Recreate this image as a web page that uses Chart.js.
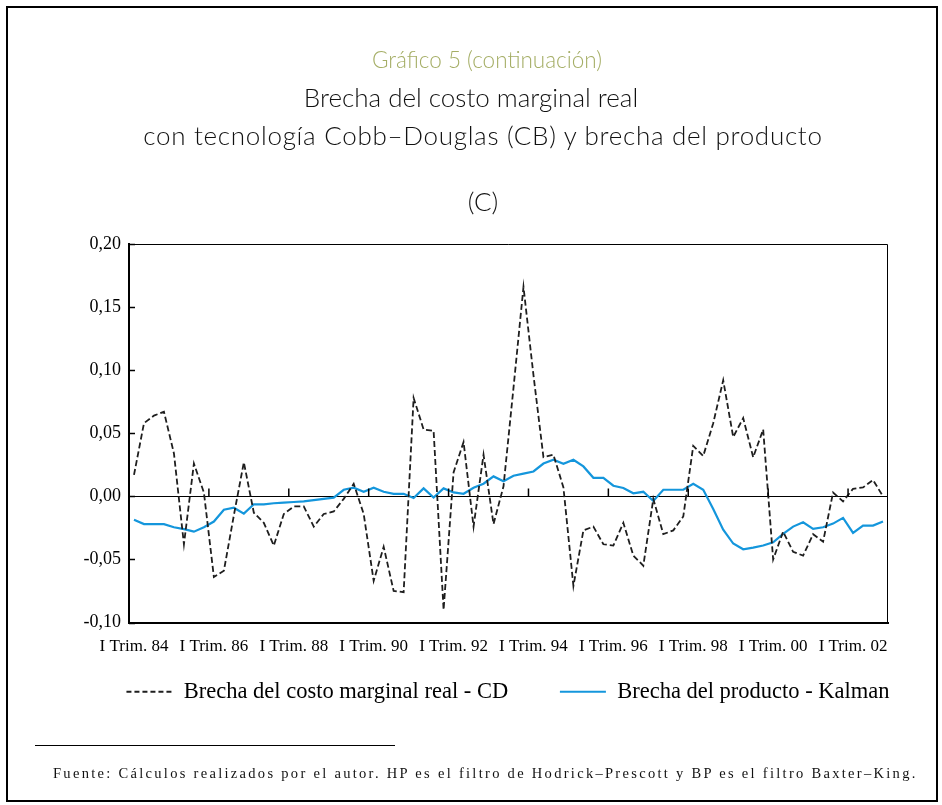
<!DOCTYPE html>
<html>
<head>
<meta charset="utf-8">
<script src="https://cdn.jsdelivr.net/npm/chart.js@4.4.0/dist/chart.umd.min.js"></script>
<style>
  html, body { margin: 0; padding: 0; background: #fff; }
  #page { position: relative; width: 942px; height: 805px; overflow: hidden; }
  #frame { position: absolute; left: 6px; top: 6px; width: 928px; height: 792px; border: 2px solid #000; pointer-events: none; }
  .t { position: absolute; width: 942px; text-align: center; white-space: nowrap; font-family: "Lato", sans-serif; font-weight: 300; color: #111; }
  #rule { position: absolute; left: 35px; top: 745px; width: 360px; border-top: 1px solid #000; }
  #note { position: absolute; left: 53px; top: 765px; white-space: nowrap; font-family: "Liberation Serif", serif; font-size: 14.5px; letter-spacing: 2.3px; color: #111; }
  canvas { position: absolute; left: 0; top: 0; }
</style>
</head>
<body>
<div id="page">
  <canvas id="chart" width="942" height="805"></canvas>
  <div class="t" style="left:16px; top:46px; font-size:22.5px; color:#a5ae66;">Gráfico 5 (continuación)</div>
  <div class="t" style="left:0px; top:81px; font-size:26px;">Brecha del costo marginal real</div>
  <div class="t" style="left:12px; top:119px; font-size:26px; letter-spacing:0.7px;">con tecnología Cobb–Douglas (CB) y brecha del producto</div>
  <div class="t" style="left:12px; top:185px; font-size:26px;">(C)</div>
  <div id="rule"></div>
  <div id="note">Fuente: Cálculos realizados por el autor. HP es el filtro de Hodrick–Prescott y BP es el filtro Baxter–King.</div>
  <div id="frame"></div>
</div>
<script>
// quarterly categories 1984 I .. 2002 IV
const years = ["84", "85", "86", "87", "88", "89", "90", "91", "92", "93",
  "94", "95", "96", "97", "98", "99", "00", "01", "02"];
const quarterNames = ["I", "II", "III", "IV"];
const quarters = [];
years.forEach(y => quarterNames.forEach(q => quarters.push(q + " Trim. " + y)));

const yTicks = [-0.10, -0.05, 0.00, 0.05, 0.10, 0.15, 0.20];

// Brecha del costo marginal real - CD
const cdGap = [
  0.017, 0.058, 0.064, 0.067, 0.034, -0.038, 0.026, 0.003,
  -0.064, -0.059, -0.015, 0.027, -0.013, -0.021, -0.039, -0.014,
  -0.008, -0.008, -0.024, -0.014, -0.012, -0.002, 0.010, -0.014,
  -0.067, -0.040, -0.075, -0.076, 0.078, 0.053, 0.052, -0.090,
  0.019, 0.043, -0.024, 0.033, -0.022, 0.008, 0.086, 0.166,
  0.096, 0.031, 0.033, 0.007, -0.071, -0.027, -0.024, -0.038,
  -0.039, -0.021, -0.047, -0.055, -0.002, -0.030, -0.027, -0.016,
  0.040, 0.032, 0.058, 0.092, 0.047, 0.062, 0.031, 0.053,
  -0.050, -0.028, -0.044, -0.047, -0.030, -0.036, 0.003, -0.004,
  0.006, 0.007, 0.013, 0.000
];

// Brecha del producto - Kalman
const kalmanGap = [
  -0.0185, -0.022, -0.022, -0.022, -0.0245, -0.026, -0.028, -0.0245,
  -0.020, -0.0106, -0.009, -0.0137, -0.0063, -0.0063, -0.0055, -0.005,
  -0.0045, -0.004, -0.003, -0.002, -0.001, 0.0052, 0.0068, 0.0036,
  0.0068, 0.0036, 0.002, 0.002, -0.0013, 0.0063, -0.001, 0.0063,
  0.0031, 0.002, 0.0068, 0.010, 0.0158, 0.012, 0.0163, 0.018,
  0.0197, 0.026, 0.029, 0.0258, 0.029, 0.0237, 0.0147, 0.0147,
  0.0084, 0.0066, 0.0024, 0.0036, -0.0037, 0.0052, 0.0052, 0.0052,
  0.010, 0.0052, -0.010, -0.0264, -0.0374, -0.042, -0.0406, -0.039,
  -0.0364, -0.0298, -0.024, -0.0206, -0.0258, -0.0245, -0.0216, -0.0171,
  -0.029, -0.0232, -0.0232, -0.020
];

const serif = "'Liberation Serif', 'Times New Roman', serif";

// plot frame, inner y ticks and the small ticks on the zero line
const frameTicks = {
  id: "frameTicks",
  afterDraw(chart) {
    const { ctx, chartArea: a, scales: { x, y } } = chart;
    ctx.save();
    ctx.strokeStyle = "#000";
    ctx.lineWidth = 1;
    ctx.beginPath();
    ctx.moveTo(a.left, a.top + 0.5);
    ctx.lineTo(a.right - 0.5, a.top + 0.5);
    ctx.lineTo(a.right - 0.5, a.bottom);
    ctx.stroke();

    ctx.lineWidth = 1.5;
    yTicks.forEach(v => {
      const py = Math.round(y.getPixelForValue(v)) + 0.5;
      ctx.beginPath();
      ctx.moveTo(a.left, py);
      ctx.lineTo(a.left + 6, py);
      ctx.stroke();
    });

    const y0 = Math.round(y.getPixelForValue(0)) + 0.5;
    for (let k = 8; k < quarters.length; k += 8) {
      const px = (x.getPixelForValue(k - 1) + x.getPixelForValue(k)) / 2;
      ctx.beginPath();
      ctx.moveTo(px, y0);
      ctx.lineTo(px, y0 - 8);
      ctx.stroke();
    }
    ctx.restore();
  }
};

// extra room after the first legend entry, as in the original layout
const legendGap = "\u00a0\u00a0\u00a0\u00a0\u00a0\u00a0";

new Chart(document.getElementById("chart"), {
  type: "line",
  data: {
    labels: quarters,
    datasets: [
      {
        label: "Brecha del costo marginal real - CD",
        data: cdGap,
        borderColor: "#1e1e1e",
        backgroundColor: "#1e1e1e",
        borderWidth: 1.8,
        borderDash: [6, 3],
        pointRadius: 0,
        tension: 0,
      },
      {
        label: "Brecha del producto - Kalman",
        data: kalmanGap,
        borderColor: "#1496dc",
        backgroundColor: "#1496dc",
        borderWidth: 2.2,
        pointRadius: 0,
        tension: 0,
      },
    ],
  },
  options: {
    responsive: false,
    animation: false,
    layout: { padding: { left: 74, right: 0, top: 244, bottom: 92 } },
    plugins: {
      title: { display: false },
      tooltip: { enabled: false },
      legend: {
        display: true,
        position: "bottom",
        labels: {
          usePointStyle: true,
          pointStyle: "line",
          pointStyleWidth: 46,
          padding: 18,
          color: "#000",
          font: { family: serif, size: 22.5 },
          generateLabels: chart => {
            const items = Chart.defaults.plugins.legend.labels.generateLabels(chart);
            items.forEach((item, i) => {
              const ds = chart.data.datasets[i];
              item.lineWidth = ds.borderWidth;
              item.lineDash = ds.borderDash ? [5, 3] : [];
              item.strokeStyle = ds.borderColor;
            });
            items[0].text += legendGap;
            return items;
          },
        },
      },
    },
    scales: {
      x: {
        type: "category",
        offset: true,
        grid: { display: false, drawTicks: false },
        border: { display: true, color: "#000", width: 2 },
        ticks: {
          autoSkip: false,
          maxRotation: 0,
          padding: 14,
          color: "#000",
          font: { family: serif, size: 17 },
          callback: (v, i) => (i % 8 === 0 ? quarters[i] : ""),
        },
        afterFit: s => { s.height = 40; },
      },
      y: {
        min: -0.10,
        max: 0.20,
        afterBuildTicks: s => { s.ticks = yTicks.map(v => ({ value: v })); },
        grid: {
          drawTicks: false,
          color: c => (c.tick && Math.abs(c.tick.value) < 1e-9 ? "#000" : "rgba(0,0,0,0)"),
          lineWidth: 1,
        },
        border: { display: true, color: "#000", width: 2 },
        ticks: {
          padding: 8,
          color: "#000",
          font: { family: serif, size: 18 },
          callback: v => (Math.abs(v) < 1e-9 ? "0,00" : v.toFixed(2).replace(".", ",")),
        },
        afterFit: s => { s.width = 55; },
      },
      yRight: {
        position: "right",
        display: true,
        min: -0.10,
        max: 0.20,
        grid: { display: false, drawTicks: false },
        border: { display: false },
        ticks: { display: false },
        afterFit: s => { s.width = 54; },
      },
    },
  },
  plugins: [frameTicks],
});
</script>
</body>
</html>
